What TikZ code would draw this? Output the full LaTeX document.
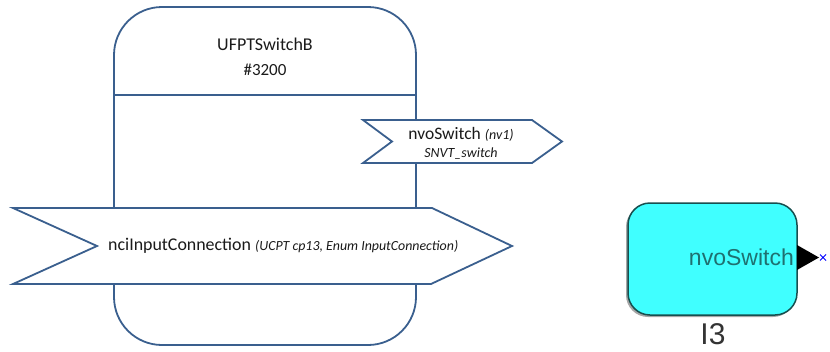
\documentclass[tikz,border=0pt]{standalone}
\usepackage{fontspec}
\setmainfont{Carlito}
\newfontfamily\arialfont{Liberation Sans}
\usepackage{tikz}
\usetikzlibrary{positioning}
\definecolor{borda}{HTML}{3A5F8E}
\definecolor{ciano}{HTML}{40FFFF}
\definecolor{petroleo}{HTML}{1F7070}
\definecolor{contorno}{HTML}{174F4F}
\definecolor{texto}{HTML}{1A1A1A}

\begin{document}
\begin{tikzpicture}[
  x=1pt,y=-1pt,
  bloco/.style={draw=borda,line width=1.8pt},
  bandeira/.style={draw=borda,line width=1.8pt,fill=white,line join=miter},
  rotulo/.style={inner sep=0pt,text=texto,align=center},
  caixa/.style={draw=contorno,line width=1.5pt,fill=ciano,rounded corners=22pt}
]
  \useasboundingbox (0,0) rectangle (830,351);
  % functional block
  \draw[bloco,rounded corners=48pt] (114,7) rectangle (416,345);
  \coordinate (divw) at (114,95);
  \coordinate (dive) at (416,95);
  \draw[bloco] (divw) -- (dive);
  \node[rotulo,font=\fontsize{18}{25}\selectfont] (titulo) at (265,57) {UFPTSwitchB\\\fontsize{17}{25}\selectfont\#3200};
  % output network variable
  \draw[bandeira] (363,120) -- (532,120) -- (562,141.5) -- (532,163) -- (363,163) -- (392,141.5) -- cycle;
  \node[rotulo,font=\fontsize{17.5}{18}\selectfont] (nvo) at (461,143)
    {nvoSwitch {\itshape\fontsize{14}{18}\selectfont(nv1)}\\{\itshape\fontsize{14}{18}\selectfont SNVT\_switch}};
  % configuration property
  \draw[bandeira] (13,208) -- (432,208) -- (512,246) -- (431,284) -- (13,284) -- (97,246) -- cycle;
  \node[rotulo,anchor=west,font=\fontsize{17.9}{20}\selectfont] (nci) at (108,246)
    {nciInputConnection {\itshape\fontsize{13.9}{20}\selectfont(UCPT cp13, Enum InputConnection)}};
  % device block
  \fill[gray!70,rounded corners=22pt] (626,205) rectangle (795,317);
  \draw[caixa] (628,203) rectangle (797,315);
  \node[anchor=east,inner sep=0pt,text=petroleo,font=\arialfont\fontsize{23}{23}\selectfont] (saida) at (794,257) {nvoSwitch};
  \fill[black] (797,245) -- (819,257.5) -- (797,270) -- cycle;
  \coordinate (pino) at (823,257.5);
  \draw[blue,line width=0.9pt] ([shift={(-3,-3)}]pino) -- ([shift={(3,3)}]pino)
    ([shift={(-3,3)}]pino) -- ([shift={(3,-3)}]pino);
  \node[inner sep=0pt,text=black!80,font=\arialfont\fontsize{30}{30}\selectfont] (inst) at (713,334) {I3};
\end{tikzpicture}
\end{document}
